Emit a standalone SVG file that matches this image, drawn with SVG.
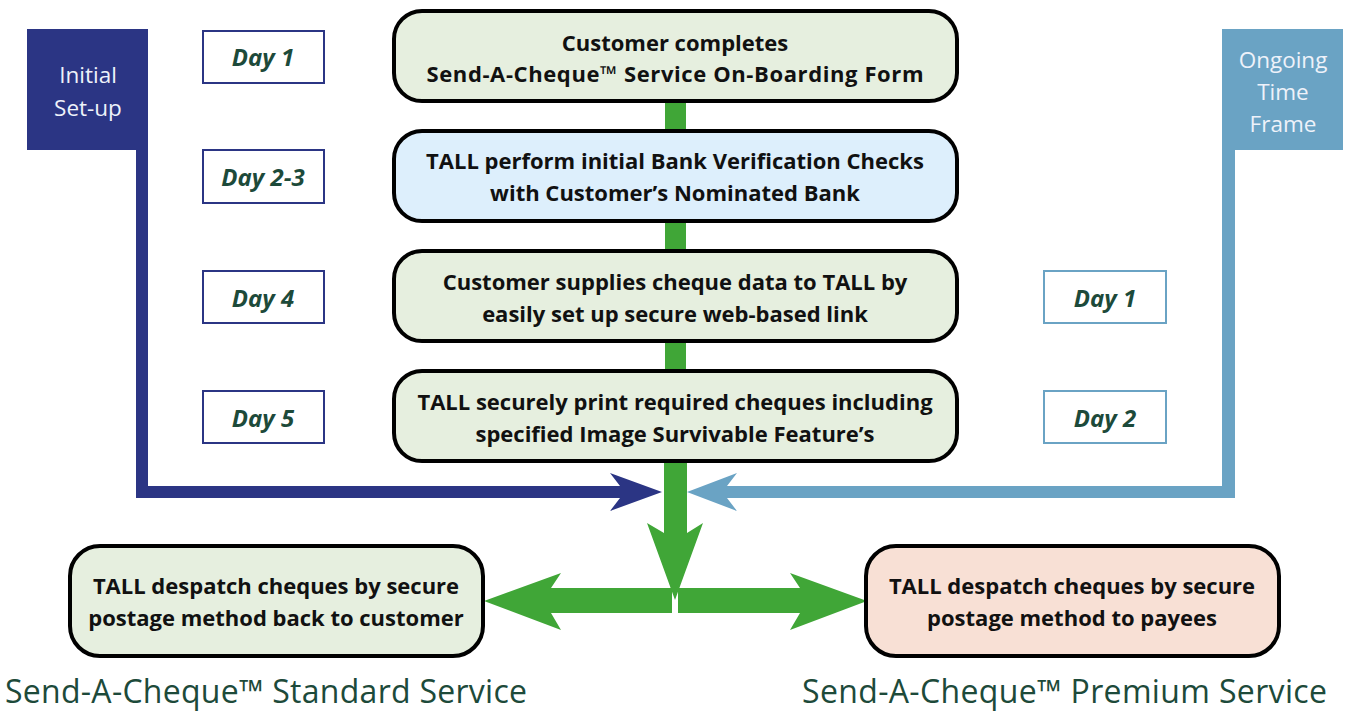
<svg xmlns="http://www.w3.org/2000/svg" width="1357" height="713" viewBox="0 0 1357 713">
<style>
.box{stroke:#000;stroke-width:4}
.g{fill:#E6EFDF}
.b{fill:#DDEFFC}
.p{fill:#F8E0D5}
.t{font-family:"Open Sans","Liberation Sans",sans-serif;font-weight:bold;font-size:22px;fill:#111;text-anchor:middle}
.day{fill:#fff;stroke-width:2}
.dl{stroke:#2B3584}
.dr{stroke:#6AA3C4}
.dt{font-family:"Open Sans","Liberation Sans",sans-serif;font-weight:bold;font-style:italic;font-size:24px;fill:#1D4A3A;text-anchor:middle}
.bt{font-family:"Open Sans","Liberation Sans",sans-serif;font-size:22.5px;fill:#EEF2FA;text-anchor:middle}
.cap{font-family:"Open Sans","Liberation Sans",sans-serif;font-size:32px;fill:#1D4A3A}
.green{fill:#40A637}
</style>
<g id="connectors">
<rect class="green" x="665" y="100" width="21" height="362"/>
<polygon class="green" points="664,455 687,455 687,533 703,523 675,600 647,523 664,533"/>
<polygon class="green" points="672,588 551,588 561,573 484,601 561,630 551,613 672,613"/>
<polygon class="green" points="678,588 800,588 790,573 867,601 790,630 800,613 678,613"/>
<polygon fill="#2B3584" points="27,29 148,29 148,486 620,486 610,473 662,492 610,511 620,498 136,498 136,150 27,150"/>
<polygon fill="#6AA3C4" points="1222,29 1343,29 1343,150 1235,150 1235,498 727,498 737,511 687,492 737,473 727,486 1222,486"/>
</g>
<g id="banner-initial">
<text class="bt" x="88" y="83">Initial</text>
<text class="bt" x="88" y="116">Set-up</text>
</g>
<g id="banner-ongoing">
<text class="bt" x="1283" y="68">Ongoing</text>
<text class="bt" x="1283" y="100">Time</text>
<text class="bt" x="1283" y="132">Frame</text>
</g>
<g id="step1">
<rect class="box g" x="394" y="11" width="563" height="90" rx="28"/>
<text class="t" x="675" y="51">Customer completes</text>
<text class="t" x="675" y="82" textLength="497" lengthAdjust="spacing">Send-A-Cheque™ Service On-Boarding Form</text>
</g>
<g id="step2">
<rect class="box b" x="394" y="131" width="563" height="90" rx="28"/>
<text class="t" x="675" y="169">TALL perform initial Bank Verification Checks</text>
<text class="t" x="675" y="201">with Customer’s Nominated Bank</text>
</g>
<g id="step3">
<rect class="box g" x="394" y="251" width="563" height="90" rx="28"/>
<text class="t" x="675" y="290">Customer supplies cheque data to TALL by</text>
<text class="t" x="675" y="322">easily set up secure web-based link</text>
</g>
<g id="step4">
<rect class="box g" x="394" y="371" width="563" height="90" rx="28"/>
<text class="t" x="675" y="410">TALL securely print required cheques including</text>
<text class="t" x="675" y="442">specified Image Survivable Feature’s</text>
</g>
<g id="standard">
<rect class="box g" x="70" y="546" width="413" height="110" rx="30"/>
<text class="t" x="276" y="594">TALL despatch cheques by secure</text>
<text class="t" x="276" y="626">postage method back to customer</text>
</g>
<g id="premium">
<rect class="box p" x="866" y="546" width="413" height="110" rx="30"/>
<text class="t" x="1072" y="594">TALL despatch cheques by secure</text>
<text class="t" x="1072" y="626">postage method to payees</text>
</g>
<g id="day1-left"><rect class="day dl" x="203" y="31" width="121" height="52"/><text class="dt" x="263" y="66">Day 1</text></g>
<g id="day23-left"><rect class="day dl" x="203" y="150" width="121" height="53"/><text class="dt" x="263" y="186">Day 2-3</text></g>
<g id="day4-left"><rect class="day dl" x="203" y="271" width="121" height="52"/><text class="dt" x="263" y="307">Day 4</text></g>
<g id="day5-left"><rect class="day dl" x="203" y="391" width="121" height="52"/><text class="dt" x="263" y="427">Day 5</text></g>
<g id="day1-right"><rect class="day dr" x="1044" y="271" width="122" height="52"/><text class="dt" x="1105" y="307">Day 1</text></g>
<g id="day2-right"><rect class="day dr" x="1044" y="391" width="122" height="52"/><text class="dt" x="1105" y="427">Day 2</text></g>
<g id="captions">
<text class="cap" x="5" y="703" textLength="522" lengthAdjust="spacing">Send-A-Cheque™ Standard Service</text>
<text class="cap" x="802" y="703" textLength="525" lengthAdjust="spacing">Send-A-Cheque™ Premium Service</text>
</g>
</svg>
